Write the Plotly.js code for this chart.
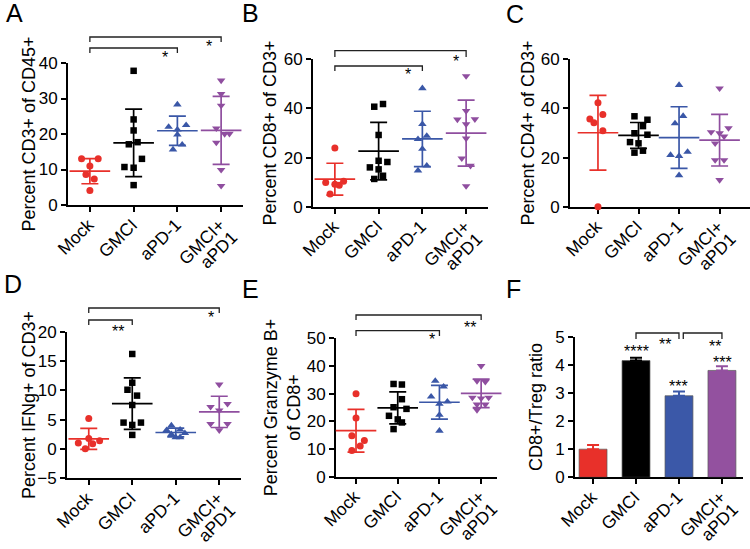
<!DOCTYPE html>
<html><head><meta charset="utf-8">
<script src="https://cdn.plot.ly/plotly-3.0.1.min.js"></script>
<style>html,body{margin:0;padding:0;background:#fff;}#chart{width:750px;height:549px;}</style>
</head><body><div id="chart"></div>
<script>
// ---------- DATA ----------
const groups = ['Mock', 'GMCI', 'aPD-1', 'GMCI+aPD1'];
const tickLabels = ['Mock', 'GMCI', 'aPD-1', 'GMCI+<br>aPD1'];

// A: Percent CD3+ of CD45+
const A_mock  = [13.05, 13.05, 11.0, 8.6, 7.3, 4.1];
const A_gmci  = [37.8, 24.1, 21.0, 17.1, 17.7, 13.0, 10.7, 10.5, 5.6];
const A_apd1  = [28.3, 22.0, 22.5, 21.2, 19.8, 15.6, 17.0];
const A_combo = [35.1, 31.3, 28.0, 21.6, 20.0, 20.1, 17.6, 9.9, 5.4];
const A_mock_jit  = [-0.19, 0.19, 0, -0.09, 0.10, 0];
const A_gmci_jit  = [0, 0, 0, -0.11, 0.09, 0.19, -0.21, 0, 0];
const A_apd1_jit  = [0, -0.2, 0.2, 0, 0, -0.1, 0.11];
const A_combo_jit = [0, 0, 0, -0.11, 0.08, 0.19, -0.11, 0, 0];

// B: Percent CD8+ of CD3+
const B_mock  = [23.9, 9.9, 9.1, 8.7, 10.4, 5.2];
const B_gmci  = [40.7, 41.8, 29.2, 16.0, 18.7, 18.2, 15.2, 12.6, 11.3];
const B_apd1  = [48.2, 33.6, 27.5, 28.8, 23.5, 16.7, 14.7];
const B_combo = [53.2, 39.0, 35.5, 35.6, 33.6, 27.8, 19.7, 16.7, 8.4];
const B_mock_jit  = [0, -0.21, 0, 0.1, 0.2, -0.11];
const B_gmci_jit  = [-0.1, 0.1, 0, -0.2, 0, 0.2, 0, 0.1, -0.1];
const B_apd1_jit  = [0, 0, -0.1, 0.1, 0, 0.1, -0.1];
const B_combo_jit = [0, 0, -0.2, 0.2, 0, 0, -0.1, 0.1, 0];

// C: Percent CD4+ of CD3+
const C_mock  = [42.3, 35.7, 34.2, 37.5, 30.9, 0];
const C_gmci  = [36.8, 35.4, 32.8, 29.9, 29.3, 26.3, 25.8, 22.0, 22.8];
const C_apd1  = [49.5, 36.9, 33.9, 21.0, 20.6, 22.3, 12.8];
const C_combo = [48.2, 30.4, 29.9, 32.0, 28.6, 25.8, 19.0, 19.0, 10.9];
const C_mock_jit  = [0, -0.2, -0.1, 0.12, 0.12, 0];
const C_gmci_jit  = [-0.1, 0.22, 0.11, -0.1, 0.22, -0.21, 0, -0.1, 0.11];
const C_apd1_jit  = [0, 0.1, -0.1, -0.21, 0, 0.21, 0];
const C_combo_jit = [0, -0.21, 0, 0.22, 0.11, -0.11, -0.11, 0.11, 0];

// D: Percent IFNg+ of CD3+
const D_mock  = [5.2, 1.8, 1.0, 0.9, 1.4, 0.05];
const D_gmci  = [16.2, 11.3, 10.1, 9.1, 7.5, 4.5, 4.5, 4.1, 2.4];
const D_apd1  = [4.0, 3.2, 3.3, 2.5, 2.7, 2.0, 2.0];
const D_combo = [11.0, 7.2, 7.7, 6.6, 4.3, 3.2, 4.3];
const D_mock_jit  = [0, 0, -0.24, 0.09, 0.25, -0.08];
const D_gmci_jit  = [0, 0, -0.11, 0.11, 0, -0.2, 0.2, 0, 0];
const D_apd1_jit  = [-0.1, -0.21, 0.1, -0.1, 0.21, 0, 0.1];
const D_combo_jit = [0, -0.2, 0.19, 0, -0.2, 0, 0.19];

// E: Percent Granzyme B+ of CD8+
const E_mock  = [30.0, 21.2, 14.8, 13.1, 11.1, 9.5];
const E_gmci  = [33.5, 33.3, 28.0, 25.1, 24.5, 22.0, 20.7, 19.6, 17.2];
const E_apd1  = [34.6, 32.5, 28.9, 27.1, 26.3, 22.3, 16.6];
const E_combo = [40.0, 34.6, 34.3, 28.6, 28.3, 28.6, 26.1, 26.1, 24.1];
const E_mock_jit  = [0, 0, -0.1, 0.2, 0.1, -0.1];
const E_gmci_jit  = [-0.1, 0.1, 0.1, -0.1, 0.21, -0.21, 0, 0.1, -0.1];
const E_apd1_jit  = [-0.1, 0.1, -0.2, 0.19, 0, 0, 0];
const E_combo_jit = [0, -0.1, 0.1, -0.21, 0, 0.18, -0.1, 0.1, -0.1];

// F: CD8+/Treg ratio (mean + SEM)
const F_mean = [1.0, 4.15, 2.9, 3.8];
const F_err  = [0.15, 0.10, 0.15, 0.15];

// ---------- STYLE / LAYOUT ----------
const W = 750, H = 549;
const colors = ['#E8302A', '#000000', '#3A57A7', '#8F4E9F'];
const barColors = ['#E8302A', '#000000', '#3B58A8', '#93519F'];
const symbols = ['circle', 'square', 'triangle-up', 'triangle-down'];
const msize = [7, 6.5, 7.5, 7.5];
const FONT = 'Liberation Sans, Arial, sans-serif';
const fx = p => p / W;
const fy = p => 1 - p / H;
const tickText = tickLabels.map(t => t.split('<br>').map(l => '<span style="font-size:17.5px">' + l + '</span>').join('<br>'));

// so: title standoff on the axis itself; free: x px of a bare title-only axis (used where the title sits close to the labels)
const panels = [
  {letter:'A', s:'',  dom:[68,243,63,205],     xr:[-0.5,3.5],   yr:[0,40], dt:10,
   data:[A_mock,A_gmci,A_apd1,A_combo], jit:[A_mock_jit,A_gmci_jit,A_apd1_jit,A_combo_jit],
   title:'Percent CD3+ of CD45+', free:42, t:7, lx:4, ly:13},
  {letter:'B', s:'2', dom:[313,488,59.3,206.7], xr:[-0.5,3.5],  yr:[0,60], dt:20,
   data:[B_mock,B_gmci,B_apd1,B_combo], jit:[B_mock_jit,B_gmci_jit,B_apd1_jit,B_combo_jit],
   title:'Percent CD8+ of CD3+', so:2, lx:240, ly:13},
  {letter:'C', s:'3', dom:[570,750,59.3,206.7], xr:[-0.69,3.75], yr:[0,60], dt:20,
   data:[C_mock,C_gmci,C_apd1,C_combo], jit:[C_mock_jit,C_gmci_jit,C_apd1_jit,C_combo_jit],
   title:'Percent CD4+ of CD3+', free:541, t:8, lx:504, ly:14},
  {letter:'D', s:'4', dom:[67,241,331.7,478.3], xr:[-0.5,3.5],  yr:[-5,20], dt:5,
   data:[D_mock,D_gmci,D_apd1,D_combo], jit:[D_mock_jit,D_gmci_jit,D_apd1_jit,D_combo_jit],
   title:'Percent IFNg+ of CD3+', free:42, t:9, lx:2, ly:284},
  {letter:'E', s:'5', dom:[336,497,338.3,476.7], xr:[-0.48,3.38], yr:[0,50], dt:10,
   data:[E_mock,E_gmci,E_apd1,E_combo], jit:[E_mock_jit,E_gmci_jit,E_apd1_jit,E_combo_jit],
   title:'Percent Granzyme B+<br>of CD8+', so:1, lx:240, ly:289},
  {letter:'F', s:'6', dom:[575,743,336.7,477.3], xr:[-0.42,3.49], yr:[0,5], dt:1,
   title:'CD8+/Treg ratio', so:8, lx:504, ly:289}
];

function mean(a){ return a.reduce((s,v)=>s+v,0)/a.length; }
function sd(a){ const m = mean(a); return Math.sqrt(a.reduce((s,v)=>s+(v-m)*(v-m),0)/(a.length-1)); }

const traces = [];
const layout = {
  width: W, height: H, margin:{l:0,r:0,t:0,b:0},
  paper_bgcolor:'#fff', plot_bgcolor:'rgba(0,0,0,0)',
  showlegend:false, font:{family:FONT, color:'#000'},
  barmode:'overlay', annotations:[], shapes:[]
};
const titleFont = {size:18, family:FONT, color:'#000'};

panels.forEach(p => {
  const xa = 'x'+p.s, ya = 'y'+p.s;
  const ydom = [fy(p.dom[3]), fy(p.dom[2])];
  layout['xaxis'+p.s] = {
    domain:[fx(p.dom[0]), fx(p.dom[1])], range:p.xr, anchor:ya,
    tickmode:'array', tickvals:[0,1,2,3], ticktext:tickText, tickangle:-45,
    tickfont:{size:13.5, family:FONT, color:'#000'},
    showline:true, linewidth:2, linecolor:'#000', ticks:'outside', ticklen:5, tickwidth:2, tickcolor:'#000',
    showgrid:false, zeroline:false, fixedrange:true, layer:'below traces'
  };
  layout['yaxis'+p.s] = {
    domain:ydom, range:p.yr, anchor:xa, dtick:p.dt, tick0:0,
    tickfont:{size:17, family:FONT, color:'#000'},
    showline:true, linewidth:2, linecolor:'#000', ticks:'outside', ticklen:5, tickwidth:2, tickcolor:'#000',
    showgrid:false, zeroline:false, fixedrange:true, layer:'below traces'
  };
  if (p.free) {
    // title-only axis sharing the panel's vertical domain
    layout['yaxis'+p.t] = {
      overlaying:ya, anchor:'free', position:fx(p.free), side:'left', domain:ydom, range:[0,1],
      showline:false, ticks:'', showticklabels:false, showgrid:false, zeroline:false, fixedrange:true,
      title:{text:p.title, font:titleFont, standoff:0}
    };
    traces.push({type:'scatter', mode:'markers', x:[], y:[], xaxis:xa, yaxis:'y'+p.t, hoverinfo:'skip'});
  } else {
    layout['yaxis'+p.s].title = {text:p.title, font:titleFont, standoff:p.so};
  }
  layout.annotations.push({xref:'paper', yref:'paper', x:fx(p.lx), y:fy(p.ly), text:p.letter,
    showarrow:false, xanchor:'left', yanchor:'middle', font:{size:25, family:FONT, color:'#000'}});

  if (p.data) {
    p.data.forEach((vals, g) => {
      traces.push({type:'scatter', mode:'markers', xaxis:xa, yaxis:ya, cliponaxis:false,
        x: p.jit[g].map(j => g + j), y: vals, name: groups[g], hoverinfo:'y',
        marker:{symbol:symbols[g], size:msize[g], color:colors[g]}});
      traces.push({type:'scatter', mode:'markers', xaxis:xa, yaxis:ya, cliponaxis:false,
        x:[g], y:[mean(vals)], name: groups[g]+' mean',
        marker:{symbol:'line-ew', size:29, color:colors[g], line:{width:1.7, color:colors[g]}},
        error_y:{type:'data', array:[sd(vals)], visible:true, width:8.5, thickness:1.7, color:colors[g]}});
    });
  } else {
    F_mean.forEach((v, g) => {
      traces.push({type:'bar', xaxis:xa, yaxis:ya, x:[g], y:[v], width:0.65, name:groups[g],
        marker:{color:barColors[g], line:{width:1, color:'rgba(90,90,90,0.7)'}},
        error_y:{type:'data', symmetric:false, array:[F_err[g]], arrayminus:[0], visible:true,
          width:6, thickness:2, color:barColors[g]}});
    });
  }
});

// significance brackets: [axis suffix, x0, x1, line y px, tick end y px]
const brackets = [
  ['',0,3,37,42], ['',0,2,48,53],
  ['2',0,3,50.7,57], ['2',0,2,66,71],
  ['4',0,3,308,313], ['4',0,1,320,325],
  ['5',0,3,315,320], ['5',0,2,330.7,336],
  ['6',1,2,333,339], ['6',2.1,3,333,339]
];
brackets.forEach(b => {
  const y1 = fy(b[3]), y0 = fy(b[4]);
  layout.shapes.push({type:'path', xref:'x'+b[0], yref:'paper',
    path:`M ${b[1]},${y0} L ${b[1]},${y1} L ${b[2]},${y1} L ${b[2]},${y0}`,
    line:{color:'#222', width:1.3}});
});
// stars: [axis suffix, x, glyph centre y px, text]
const stars = [
  ['',1.72,53,'*'], ['',2.72,43,'*'],
  ['2',1.66,70.7,'*'], ['2',2.77,57.3,'*'],
  ['4',0.68,327,'**'], ['4',2.81,313,'*'],
  ['5',1.82,335,'*'], ['5',2.73,323,'**'],
  ['6',1.67,340,'**'], ['6',2.84,342,'**'],
  ['6',1,347,'****'], ['6',2,382,'***'], ['6',3.02,358,'***']
];
stars.forEach(s => {
  layout.annotations.push({xref:'x'+s[0], yref:'paper', x:s[1], y:fy(s[2]+4), text:s[3],
    showarrow:false, xanchor:'center', yanchor:'middle', font:{size:16, family:FONT, color:'#000'}});
});

Plotly.newPlot('chart', traces, layout, {staticPlot:true, displayModeBar:false});
</script>
</body></html>
